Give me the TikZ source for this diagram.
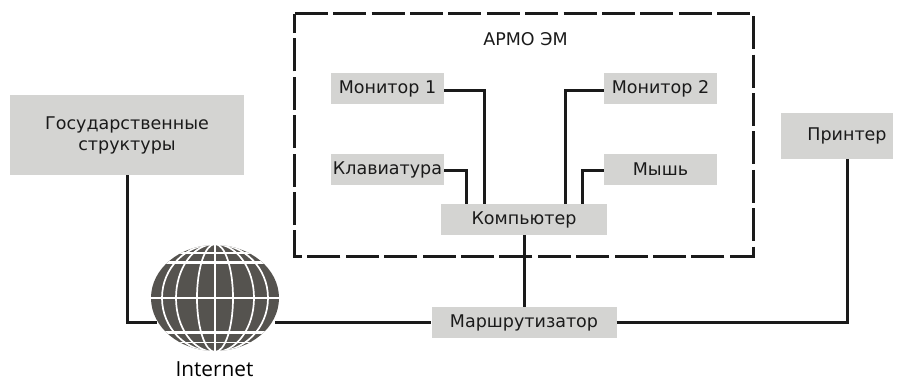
\documentclass[tikz,border=0pt]{standalone}
\usepackage{fontspec}
\setmainfont{DejaVu Sans}
\newfontfamily\netfont{Open Sans}
\usetikzlibrary{shapes.geometric}
\definecolor{boxgray}{HTML}{D4D4D2}
\definecolor{ink}{HTML}{1A1A1A}
\definecolor{globegray}{HTML}{55534F}
\tikzset{
 box/.style={fill=boxgray,inner sep=0pt,text=ink,font=\fontsize{17.5}{21}\selectfont,align=center},
 wire/.style={draw=ink,line width=3pt},
 frameline/.style={draw=ink,line width=3.1pt,dash pattern=on 33pt off 5.4pt},
 merid/.style={draw=white,line width=1.7pt},
}
\begin{document}
\begin{tikzpicture}[x=1pt,y=-1pt]
\useasboundingbox (0,0) rectangle (905,380);
\node[minimum width=458pt,minimum height=242pt,inner sep=0pt] (frame) at (524,135) {};
\draw[frameline] (frame.north west) -- (frame.north east) -- (frame.south east) -- (frame.south west) -- cycle;
\node[text=ink,font=\fontsize{17.5}{18}\selectfont] (title) at (525.5,39) {АРМО ЭМ};
\node[box,minimum width=113pt,minimum height=31pt] (mon1) at (387.5,88.5) {Монитор 1};
\node[box,minimum width=113pt,minimum height=31pt] (mon2) at (660.5,88.5) {Монитор 2};
\node[box,minimum width=113pt,minimum height=31pt] (keyb) at (387.5,169.5) {Клавиатура};
\node[box,minimum width=113pt,minimum height=31pt] (mouse) at (660.5,169.5) {Мышь};
\node[box,minimum width=166pt,minimum height=31pt] (comp) at (524,219.5) {Компьютер};
\node[box,minimum width=185pt,minimum height=31pt] (router) at (524,322.5) {Маршрутизатор};
\node[box,minimum width=112pt,minimum height=46pt] (printer) at (837,135.5) {\hspace{20pt}Принтер};
\node[box,minimum width=234pt,minimum height=80pt] (gov) at (127,135) {Государственные\\структуры};
\node[ellipse,fill=globegray,inner sep=0pt,minimum width=128pt,minimum height=106pt] (globe) at (215,298) {};
\begin{scope}
\clip (215,298) ellipse [x radius=64,y radius=53];
\foreach \r in {18,39,53}{\draw[merid] (215,298) ellipse [x radius=\r,y radius=54];}
\draw[merid] (215,240) -- (215,356);
\draw[merid,line width=2.2pt] (150,298) -- (280,298);
\draw[merid,line width=1.6pt] (150,253) -- (280,253);
\draw[merid,line width=2.6pt] (150,262.5) -- (280,262.5);
\draw[merid,line width=2.6pt] (150,332.5) -- (280,332.5);
\draw[merid,line width=1.6pt] (150,342.5) -- (280,342.5);
\end{scope}
\node[text=black,font=\netfont\fontsize{20.8}{24}\selectfont,inner sep=0pt] (net) at (214.5,369) {Internet};
\coordinate (c1) at (484,204);
\coordinate (c2) at (565,204);
\coordinate (c3) at (466,204);
\coordinate (c4) at (582,204);
\coordinate (gl) at (157,322.5);
\coordinate (gr) at (275,322.5);
\draw[wire] (mon1.east) ++(0,2) -| (c1);
\draw[wire] (mon2.west) ++(0,2) -| (c2);
\draw[wire] (keyb.east) ++(0,1) -| (c3);
\draw[wire] (mouse.west) ++(0,1) -| (c4);
\draw[wire] (comp.south) -- (router.north);
\draw[wire] (gov.south) |- (gl);
\draw[wire] (gr) -- (router.west);
\draw[wire] (router.east) -| (printer.south -| 847,0);
\end{tikzpicture}
\end{document}
